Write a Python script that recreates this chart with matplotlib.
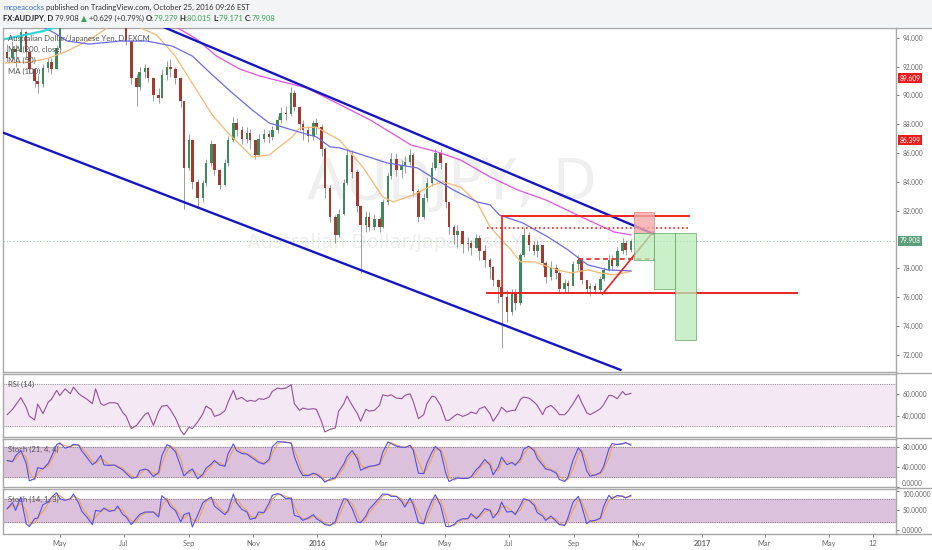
import numpy as np
import pandas as pd
import matplotlib
matplotlib.use('Agg')
import matplotlib.pyplot as plt
import matplotlib.dates as mdates
from matplotlib.patches import Rectangle
from matplotlib.lines import Line2D

FONT = ['Lato', 'DejaVu Sans']

# ---- price candles (3 business days per candle) ----
first_open = 93.0
closes = [92.6, 93.2, 93.0, 94.4, 93.0, 91.8, 91.0, 90.8, 91.9, 92.3,
          91.8, 93.3, 94.8, 95.6, 96.3, 95.9, 96.8, 96.5, 95.7, 96.3,
          95.9, 96.4, 95.7, 95.6, 95.3, 95.5, 94.9, 93.8, 91.2, 90.6,
          91.6, 91.9, 91.2, 90.0, 89.8, 91.4, 92.0, 91.8, 91.2, 89.6,
          85.0, 86.9, 84.0, 82.9, 83.9, 85.3, 86.6, 84.8, 83.8, 85.3,
          86.9, 88.1, 87.6, 87.0, 87.4, 86.9, 85.9, 87.0, 87.3, 87.1,
          87.6, 88.3, 88.8, 88.7, 90.2, 89.2, 88.0, 87.6, 87.2, 88.1,
          87.8, 86.3, 83.6, 81.6, 80.3, 81.8, 83.9, 85.9, 84.7, 82.3,
          81.0, 81.6, 80.9, 81.4, 80.9, 82.6, 84.4, 85.6, 84.8, 85.1,
          85.4, 85.9, 83.4, 81.6, 82.9, 83.9, 85.0, 86.0, 85.3, 82.6,
          80.9, 80.3, 80.6, 79.7, 79.8, 79.4, 80.1, 79.2, 78.6, 78.1,
          77.2, 76.7, 76.0, 75.0, 76.3, 75.6, 78.9, 80.3, 79.6, 79.2,
          79.6, 78.4, 77.4, 78.0, 77.7, 76.6, 77.0, 76.8, 78.3, 78.6,
          77.2, 76.6, 76.8, 76.5, 77.3, 77.9, 78.6, 78.2, 79.2, 79.8,
          79.3, 79.908]
highs = [93.6, 93.8, 93.6, 94.9, 94.5, 93.2, 91.9, 91.4, 92.2, 92.6,
         92.6, 93.5, 95.5, 96.2, 96.8, 96.6, 97.4, 97.3, 96.7, 96.8,
         96.6, 97.0, 96.6, 96.2, 95.9, 96.0, 95.6, 95.0, 93.8, 91.5,
         92.0, 92.2, 92.0, 91.2, 90.5, 91.8, 92.4, 92.5, 92.0, 91.3,
         89.6, 87.3, 87.0, 84.2, 84.1, 85.6, 86.9, 86.2, 84.9, 85.6,
         87.2, 88.5, 88.4, 87.9, 87.8, 87.7, 86.8, 87.3, 87.7, 87.6,
         87.9, 88.6, 89.2, 89.3, 90.6, 90.4, 89.3, 88.3, 87.9, 88.3,
         88.4, 88.0, 86.4, 83.8, 81.7, 82.1, 84.2, 86.3, 86.2, 84.9,
         82.4, 82.0, 81.9, 81.8, 81.6, 82.8, 84.7, 86.0, 86.0, 85.5,
         85.8, 86.3, 86.0, 83.5, 83.2, 84.3, 85.4, 86.3, 86.3, 85.2,
         82.6, 81.0, 81.0, 80.3, 80.2, 80.0, 80.4, 80.3, 79.6, 78.7,
         78.2, 77.3, 80.9, 76.5, 76.6, 76.6, 79.1, 80.9, 80.5, 79.9,
         80.0, 79.6, 78.5, 78.5, 78.3, 77.8, 77.3, 77.2, 78.5, 78.9,
         78.7, 77.2, 77.0, 77.0, 77.5, 78.1, 78.9, 78.9, 79.5, 80.1,
         80.0, 80.015]
lows = [92.3, 92.4, 92.0, 93.0, 92.6, 91.5, 90.6, 90.2, 90.6, 91.6,
        91.5, 91.8, 93.2, 95.0, 95.3, 95.2, 95.7, 95.9, 95.2, 95.4,
        95.3, 95.7, 95.3, 95.1, 94.9, 95.0, 94.8, 93.5, 90.8, 89.3,
        90.4, 91.2, 90.9, 89.6, 89.5, 89.9, 91.1, 91.3, 90.8, 89.2,
        82.1, 84.8, 83.5, 82.2, 82.6, 83.7, 85.1, 84.5, 83.5, 83.7,
        85.1, 86.8, 87.2, 86.6, 86.7, 86.3, 85.6, 85.8, 86.8, 86.7,
        86.9, 87.4, 88.1, 88.3, 88.6, 88.9, 87.6, 86.9, 86.8, 86.9,
        87.3, 85.8, 82.9, 81.2, 79.8, 80.2, 81.7, 83.8, 84.3, 81.9,
        77.7, 80.5, 80.6, 80.7, 80.5, 80.8, 82.4, 84.2, 84.4, 84.3,
        84.6, 85.2, 83.0, 81.2, 81.4, 82.6, 83.7, 84.8, 84.9, 82.2,
        80.4, 79.7, 79.4, 79.1, 79.2, 78.9, 79.4, 78.6, 78.1, 77.3,
        76.8, 75.6, 72.5, 74.3, 74.8, 75.1, 75.5, 78.8, 79.2, 78.9,
        78.8, 78.1, 77.0, 77.2, 77.3, 76.3, 76.3, 76.3, 76.8, 77.9,
        76.9, 76.3, 76.1, 76.2, 76.4, 77.1, 77.8, 77.9, 78.1, 79.0,
        78.9, 79.171]

# ---- indicators, sampled at the candle dates ----
rsi = [41, 46, 50, 57, 48, 39.7, 36, 51, 42, 52.8,
       55.4, 63.8, 59, 65.3, 60.7, 66.9, 60.7, 58.5, 55.4, 51.3,
       65.3, 51.3, 49.7, 52.2, 52.2, 51.3, 42.8, 39.7, 27.8, 31,
       34.8, 41.3, 42.8, 31, 44, 49, 49.7, 46, 37.8, 26.3,
       22, 29.4, 27.8, 34, 41.9, 49, 46, 39.4, 41, 44.7,
       52.8, 63.8, 55.4, 57.2, 53.5, 54.4, 53.5, 56, 55.4, 57.5,
       62.8, 66, 65.3, 66, 69.1, 51.3, 45, 47.2, 46, 46.6,
       46, 34.1, 24.8, 27.2, 28.5, 44.1, 51.3, 58.5, 49.7, 41.9,
       34.8, 46, 44.4, 45, 49.7, 59.7, 58.5, 59.7, 56.6, 56,
       59, 60.7, 53.5, 37.2, 41, 51.3, 58.5, 57.5, 49.7, 35.7,
       35.7, 39.7, 41.6, 39.4, 41.3, 43.5, 41.9, 46.6, 48.5, 41.9,
       34.8, 41.9, 48, 43.5, 45, 45, 55.4, 57.5, 56.6, 52.8,
       49.7, 41, 47.2, 49.7, 45, 41, 41, 44.1, 51.3, 59.7,
       52.8, 42.8, 41, 43.5, 46.6, 50.3, 59, 59, 56, 62.8,
       59.7, 61]
stoch1_k = [53, 50.7, 62.7, 73.3, 47.3, 12, 16, 38.7, 36, 47.3,
            60.7, 85.3, 88.7, 78, 81.3, 86, 84, 72, 58.7, 44.7,
            49.3, 63.3, 44, 43.3, 44, 40, 34, 27.3, 17.3, 18.7,
            32.7, 36, 33.3, 20.7, 29.3, 62.7, 85.3, 81.3, 70.7, 40.7,
            22, 32, 36, 16, 25.3, 37.3, 46, 53.3, 44, 41.3,
            66.7, 86.7, 73.3, 67.3, 66, 61.3, 54, 49.3, 46, 55.3,
            80.7, 91.3, 90.7, 90, 88, 60.7, 33.3, 22.7, 22.7, 27.3,
            25.3, 17.3, 9.3, 15.3, 18, 29.3, 46, 60.7, 73.3, 56,
            33.3, 38.7, 41.3, 42.7, 46, 69.3, 90.7, 87.3, 82, 80,
            79.3, 84, 74, 27.3, 26.7, 47.3, 70.7, 81.3, 72, 27.3,
            10.7, 16, 18, 16.7, 17.3, 20, 34.7, 40.7, 55.3, 44,
            24, 40.7, 60, 44.7, 49.3, 43.3, 56.7, 76, 82, 72.7,
            57.3, 44, 36, 33.3, 27.3, 14.7, 10.7, 18.7, 54, 78.7,
            70.7, 32, 21.3, 24, 28.7, 40.7, 76, 87.3, 85.3, 87.3,
            89.3, 84]
stoch2_k = [54.3, 69.7, 50, 84.3, 15.7, 8, 28.6, 30.3, 64.6, 71.4,
            83.4, 95.4, 80, 75.7, 80, 92, 68, 47.4, 32, 13.2,
            50, 47.4, 56, 47.4, 50, 61.1, 38.9, 33.7, 13.2, 30.3,
            39.7, 45.7, 45.7, 45.7, 32.9, 87.7, 75.7, 60.3, 49.1, 20,
            38.9, 44, 7.2, 37.1, 69.7, 75.7, 84.3, 61.1, 50, 38.9,
            50, 92, 69.7, 52.6, 45.7, 26.9, 30.3, 45.7, 44, 68.9,
            88.6, 92.9, 90.3, 80, 81.7, 37.1, 32.9, 24.3, 30.3, 38.9,
            28.6, 20, 13.2, 11.4, 20.9, 47.4, 80, 78.3, 54.3, 20,
            18.3, 35.4, 52.6, 67.1, 82.6, 92, 91.1, 86, 86, 73.1,
            58.6, 81.7, 64.6, 18.3, 15.7, 44, 75.7, 90.3, 62.9, 8.9,
            8, 14, 22.6, 28.6, 28.6, 41.4, 28.6, 37.1, 54.3, 50,
            30.3, 47.4, 71.4, 45.7, 47.4, 38.9, 62.9, 80, 75.7, 62.9,
            44, 35.4, 24.3, 35.4, 21.7, 13.2, 11.4, 30.3, 71.4, 86,
            62.9, 15.7, 22.6, 24.3, 30.3, 60.3, 88.6, 80, 88.6, 86,
            81.7, 88.6]

# ---- moving averages read at a few points ----
ma50_dates = ['2015-03-10', '2015-04-03', '2015-04-21', '2015-05-08', '2015-05-27',
              '2015-06-08', '2015-06-18', '2015-06-29', '2015-07-13', '2015-08-01',
              '2015-08-18', '2015-08-30', '2015-09-11', '2015-09-23', '2015-10-07',
              '2015-10-31', '2015-11-16', '2015-12-08', '2015-12-15', '2015-12-31',
              '2016-01-13', '2016-01-22', '2016-02-13', '2016-03-03', '2016-03-13',
              '2016-04-01', '2016-04-20', '2016-04-29', '2016-05-16', '2016-06-01',
              '2016-06-13', '2016-07-03', '2016-07-12', '2016-07-25', '2016-08-16',
              '2016-08-29', '2016-09-14', '2016-09-26', '2016-10-09', '2016-10-25']
ma50_vals = [92.25, 92.32, 92.6, 93.08, 93.77, 94.33, 94.81, 95.1, 94.81, 94.19,
             92.8, 91.42, 90.03, 88.64, 87.47, 85.73, 85.87, 87.12, 87.74, 87.81,
             87.26, 86.91, 85.04, 82.96, 82.61, 83.10, 83.79, 84.0, 83.65, 82.54,
             80.88, 79.29, 78.46, 78.46, 77.90, 77.69, 77.90, 77.69, 77.55, 77.8]
ma100_dates = ['2015-03-24', '2015-04-15', '2015-04-26', '2015-05-08', '2015-05-29',
               '2015-06-27', '2015-07-23', '2015-08-16', '2015-09-04', '2015-09-23',
               '2015-10-12', '2015-10-31', '2015-11-16', '2015-12-08', '2015-12-31',
               '2016-01-13', '2016-01-22', '2016-02-04', '2016-03-07', '2016-04-05',
               '2016-04-20', '2016-05-09', '2016-06-01', '2016-06-13', '2016-06-22',
               '2016-07-14', '2016-08-07', '2016-08-26', '2016-09-14', '2016-10-03',
               '2016-10-25']
ma100_vals = [95.57, 94.74, 94.33, 93.77, 93.56, 93.77, 93.77, 93.42, 92.73, 91.42,
              90.17, 88.99, 88.09, 87.60, 87.12, 86.43, 86.36, 86.08, 85.32, 84.97,
              84.28, 83.45, 82.61, 82.41, 81.71, 81.16, 80.19, 79.29, 78.25, 77.90,
              77.83]
ma200_dates = ['2015-08-18', '2015-09-08', '2015-09-27', '2015-10-19', '2015-11-07',
               '2015-12-22', '2016-02-20', '2016-03-30', '2016-04-24', '2016-05-16',
               '2016-06-13', '2016-07-09', '2016-08-05', '2016-09-08', '2016-10-09',
               '2016-10-25']
ma200_vals = [94.81, 93.91, 92.73, 91.83, 91.35, 90.51, 88.30, 86.56, 86.08, 85.52,
              84.35, 83.45, 82.75, 81.57, 80.53, 80.33]
cyan_dates = ['2015-03-10', '2015-03-24', '2015-04-15', '2015-05-01']
cyan_vals = [93.91, 94.12, 94.46, 94.81]

# ---- drawings ----
channel_upper = [('2015-07-25', 95.16), ('2016-11-15', 80.41)]
channel_lower = [('2015-03-08', 87.42), ('2016-10-15', 70.97)]
res_top = (('2016-06-24', '2016-12-19'), 81.67)
res_dotted = (('2016-06-10', '2016-12-19'), 80.83)
mid_dashed = (('2016-09-05', '2016-11-16'), 78.66)
sup_bottom = (('2016-06-10', '2017-04-01'), 76.29)
rising_line = [('2016-09-28', 76.23), ('2016-11-15', 80.53)]
stop_box = ('2016-10-28', '2016-11-16', 80.47, 81.92)
target_boxes = [('2016-10-28', '2016-11-16', 78.6, 80.47),
                ('2016-11-16', '2016-12-06', 76.6, 80.47),
                ('2016-12-06', '2016-12-26', 73.05, 80.47)]
last_price = 79.908
axis_tags = [(91.2, '89.609', '#ee1c1c'), (86.9, '86.399', '#ee1c1c'),
             (79.908, '79.908', '#5f9e7a')]
price_ticks = [72, 74, 76, 78, 82, 84, 86, 88, 90, 92, 94]

month_ticks = ['2015-05-01', '2015-07-01', '2015-09-01', '2015-11-01', '2016-01-01',
               '2016-03-01', '2016-05-01', '2016-07-01', '2016-09-01', '2016-11-01',
               '2017-01-01', '2017-03-01', '2017-05-01', '2017-06-12']
month_labels = ['May', 'Jul', 'Sep', 'Nov', '2016', 'Mar', 'May', 'Jul', 'Sep', 'Nov',
                '2017', 'Mar', 'May', '12']


def dn(s):
    return mdates.date2num(pd.Timestamp(s))


W, H = 932, 550
fig = plt.figure(figsize=(W / 100, H / 100), dpi=100)
fig.patch.set_facecolor('white')
fig.patches.append(Rectangle((0, 1 - 27 / H), 1, 27 / H, transform=fig.transFigure,
                             facecolor='#f3f4f6', edgecolor='none', zorder=0))


def px_axes(left, top, right, bottom):
    return fig.add_axes([left / W, 1 - bottom / H, (right - left) / W, (bottom - top) / H])


ax = px_axes(3, 27.5, 896, 372)
ax_rsi = px_axes(3, 373.7, 896, 437)
ax_s1 = px_axes(3, 438.7, 896, 487)
ax_s2 = px_axes(3, 488.7, 896, 533.7)
panels = [ax, ax_rsi, ax_s1, ax_s2]

xmin, xmax = dn('2015-03-08'), dn('2017-07-04')
for a in panels:
    a.set_xlim(xmin, xmax)
    a.yaxis.tick_right()
    a.tick_params(axis='y', direction='out', length=2.5, width=0.6, colors='#666666',
                  labelsize=4.7, pad=2)
    a.tick_params(axis='x', bottom=False, labelbottom=False)
    for sp in a.spines.values():
        sp.set_color('#a8a8a8')
        sp.set_linewidth(1.0)

# ---- main price panel ----
dates = pd.bdate_range(end='2016-10-25', periods=len(closes), freq='3B')
x = mdates.date2num(dates)
o = np.array([first_open] + closes[:-1])
c = np.array(closes)
hi = np.maximum(np.array(highs), np.maximum(o, c))
lo = np.minimum(np.array(lows), np.minimum(o, c))
up = c >= o

ax.set_ylim(70.82, 94.71)
ax.set_yticks(price_ticks)
ax.set_yticklabels([f'{v:.3f}' for v in price_ticks], family=FONT)

ax.text(0.503, 0.543, 'AUDJPY, D', transform=ax.transAxes, fontsize=41,
        color='#efefef', ha='center', va='center', zorder=0)
ax.text(0.44, 0.377, 'Australian Dollar/Japanese Yen', transform=ax.transAxes,
        fontsize=14, color='#efefef', ha='center', va='center', zorder=0)

ax.vlines(x, lo, hi, color='#8d8d8d', lw=0.6, zorder=3)
body = np.maximum(np.abs(c - o), 0.06)
ax.bar(x, body, bottom=np.minimum(o, c), width=2.4,
       color=np.where(up, '#3f8a5c', '#a33a30'), linewidth=0, zorder=4)

ax.plot([dn(d) for d in ma50_dates], ma50_vals, color='#f5b870', lw=0.9, zorder=5)
ax.plot([dn(d) for d in ma100_dates], ma100_vals, color='#6b6bea', lw=0.9, zorder=5)
ax.plot([dn(d) for d in ma200_dates], ma200_vals, color='#e650e6', lw=0.9, zorder=5)
ax.plot([dn(d) for d in cyan_dates], cyan_vals, color='#2fd6d6', lw=1.6, zorder=5)

for pts in (channel_upper, channel_lower):
    ax.plot([dn(p[0]) for p in pts], [p[1] for p in pts], color='#1616c4', lw=1.7, zorder=6)

ax.axhline(last_price, color='#8cc6a4', lw=0.8, ls=(0, (1, 2)), zorder=2)

red = '#e82424'
ax.plot([dn(d) for d in res_top[0]], [res_top[1]] * 2, color=red, lw=1.4, zorder=6)
ax.plot([dn(d) for d in res_dotted[0]], [res_dotted[1]] * 2, color=red, lw=1.2,
        ls=(0, (1, 1.6)), zorder=6)
ax.plot([dn(d) for d in mid_dashed[0]], [mid_dashed[1]] * 2, color=red, lw=1.2,
        ls=(0, (3, 2)), zorder=6)
ax.plot([dn(d) for d in sup_bottom[0]], [sup_bottom[1]] * 2, color=red, lw=1.4, zorder=6)
ax.plot([dn(res_top[0][0])] * 2, [sup_bottom[1], res_top[1]], color=red, lw=1.2, zorder=6)
ax.plot([dn(p[0]) for p in rising_line], [p[1] for p in rising_line], color=red, lw=1.2,
        zorder=6)

x0, x1, y0, y1 = stop_box
ax.add_patch(Rectangle((dn(x0), y0), dn(x1) - dn(x0), y1 - y0, facecolor='#f5a9a9',
                       edgecolor='#e58a8a', lw=0.7, alpha=0.8, zorder=7))
for x0, x1, y0, y1 in target_boxes:
    ax.add_patch(Rectangle((dn(x0), y0), dn(x1) - dn(x0), y1 - y0, facecolor='#b9ecb9',
                           edgecolor='#6aa86a', lw=0.7, alpha=0.75, zorder=7))

for price, txt, col in axis_tags:
    ax.text(1.004, price, txt, transform=ax.get_yaxis_transform(), fontsize=4.8,
            color='white', ha='left', va='center', family=FONT, zorder=10, clip_on=False,
            bbox=dict(boxstyle='square,pad=0.28', facecolor=col, edgecolor='none'))

legend_lines = ['Australian Dollar/Japanese Yen, D, FXCM', 'MA (200, close)', 'MA (50)',
                'MA (100)']
for k, s in enumerate(legend_lines):
    ax.text(0.0056, 0.968 - 0.032 * k, s, transform=ax.transAxes, fontsize=5.6,
            color='#555555', ha='left', va='center', family=FONT, zorder=9)

# ---- RSI ----
ax_rsi.set_ylim(20, 79.5)
ax_rsi.axhspan(30, 70, color='#f4e8f4', zorder=0)
for lvl in (30, 70):
    ax_rsi.axhline(lvl, color='#8f8f8f', lw=0.7, ls=(0, (1, 1.3)), zorder=1)
ax_rsi.plot(x, rsi, color='#96509a', lw=0.8, zorder=3)
ax_rsi.set_yticks([40, 60])
ax_rsi.set_yticklabels(['40.0000', '60.0000'], family=FONT)
ax_rsi.text(0.0056, 0.826, 'RSI (14)', transform=ax_rsi.transAxes, fontsize=5.5,
            color='#555555', va='center', family=FONT)

# ---- stochastics ----
k1 = pd.Series(stoch1_k)
k2 = pd.Series(stoch2_k)
d1 = k1.rolling(2, min_periods=1).mean()
d2 = k2.rolling(2, min_periods=1).mean()
for a, k, d, lim, ticks, label, ly in (
        (ax_s1, k1, d1, (-0.5, 97.2), [0, 40, 80], 'Stoch (21, 4, 4)', 0.787),
        (ax_s2, k2, d2, (-10, 105.7), [0, 50, 100], 'Stoch (14, 1, 3)', 0.756)):
    a.set_ylim(*lim)
    a.axhspan(20, 80, color='#dcc1dc', zorder=0)
    for lvl in (20, 80):
        a.axhline(lvl, color='#7f7f7f', lw=0.7, ls=(0, (1, 1.3)), zorder=1)
    a.plot(x, d, color='#f0a24a', lw=0.8, zorder=3)
    a.plot(x, k, color='#5050f2', lw=0.8, zorder=4)
    a.set_yticks(ticks)
    a.set_yticklabels([f'{t:.4f}' for t in ticks], family=FONT)
    a.text(0.0056, ly, label, transform=a.transAxes, fontsize=5.5, color='#555555',
           va='center', family=FONT)

# keep the two labels at the panel joint apart
ax_s1.get_yticklabels()[0].set_va('bottom')
ax_s2.get_yticklabels()[-1].set_va('top')

ax_s2.tick_params(axis='x', bottom=True, labelbottom=True, direction='out', length=2.5,
                  width=0.6, colors='#666666', labelsize=5.4, pad=2)
ax_s2.set_xticks([dn(d) for d in month_ticks])
ax_s2.set_xticklabels(month_labels, family=FONT)
for lab in ax_s2.get_xticklabels():
    if lab.get_text() in ('2016', '2017'):
        lab.set_fontweight('bold')

# separators reaching the right edge
for yp in (27.5, 372.8, 437.9, 487.9, 533.7):
    fig.add_artist(Line2D([896 / W, 1], [1 - yp / H] * 2, color='#a8a8a8', lw=1.0))

# ---- header ----
renderer = fig.canvas.get_renderer()


def text_runs(y_px, runs, x_px=3, size=5.5):
    xpos = x_px
    for s, col, weight in runs:
        t = fig.text(xpos / W, 1 - y_px / H, s, color=col, fontsize=size, fontweight=weight,
                     ha='left', va='center', family=FONT)
        xpos += t.get_window_extent(renderer=renderer).width


green = '#3aa655'
text_runs(7.5, [('mcpeacocks', '#3b76c2', 'normal'),
                (' published on TradingView.com, October 25, 2016 09:26 EST', '#333333',
                 'normal')])
text_runs(18.5, [('FX:AUDJPY, D', '#222222', 'bold'), (' 79.908 ', '#333333', 'normal'),
                 ('\u25b2', green, 'normal'), (' +0.629 (+0.79%) ', '#333333', 'normal'),
                 ('O:', '#222222', 'bold'), ('79.279 ', green, 'normal'),
                 ('H:', '#222222', 'bold'), ('80.015 ', green, 'normal'),
                 ('L:', '#222222', 'bold'), ('79.171 ', green, 'normal'),
                 ('C:', '#222222', 'bold'), ('79.908', green, 'normal')])

fig.savefig('out.png', dpi=100, facecolor=fig.get_facecolor())
